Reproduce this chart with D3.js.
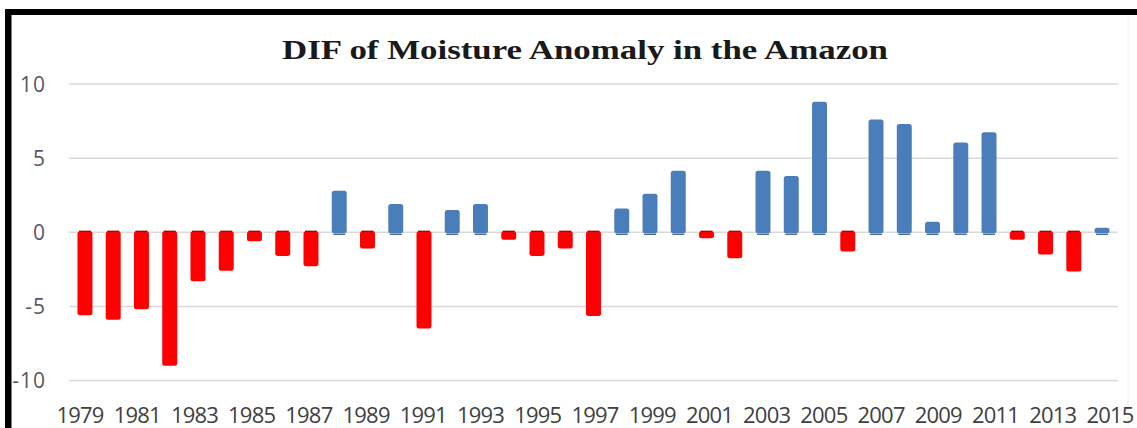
<!DOCTYPE html>
<html>
<head>
<meta charset="utf-8">
<script src="https://cdn.jsdelivr.net/npm/d3@7"></script>
<style>
  html, body { margin: 0; padding: 0; background: #fff; }
  svg { display: block; }
</style>
</head>
<body>
<svg id="chart" width="1137" height="428"></svg>
<script>
const title = "DIF of Moisture Anomaly in the Amazon";
const years = d3.range(1979, 2016).map(String);
const values = [-5.6, -5.9, -5.2, -9.0, -3.3, -2.6, -0.6, -1.6, -2.3, 2.8,
                -1.1, 1.9, -6.5, 1.5, 1.9, -0.5, -1.6, -1.1, -5.65, 1.6,
                2.6, 4.15, -0.4, -1.75, 4.15, 3.8, 8.8, -1.3, 7.6, 7.3,
                0.7, 6.05, 6.75, -0.5, -1.5, -2.65, 0.3];
const yTicks = [-10, -5, 0, 5, 10];
const xTickLabels = years.filter((d, i) => i % 2 === 0);

const svg = d3.select("#chart");
const W = 1137, H = 428;
const plotLeft = 69, plotRight = 1118;

const y = d3.scaleLinear().domain([-10, 10]).range([380.5, 84]);
const x = d3.scaleBand().domain(years).range([plotLeft, plotRight]).paddingInner(0.47).paddingOuter(0.3);
const xLab = d3.scalePoint().domain(years).range([80, 1110]);

// frame
svg.append("rect").attr("x", 0).attr("y", 0).attr("width", W).attr("height", H).attr("fill", "#fff");
svg.append("line").attr("x1", 1128).attr("x2", 1128).attr("y1", 15).attr("y2", H)
  .attr("stroke", "#f0f0f0").attr("stroke-width", 1);

// gridlines
svg.append("g").selectAll("line").data(yTicks).join("line")
  .attr("x1", plotLeft).attr("x2", plotRight)
  .attr("y1", d => y(d)).attr("y2", d => y(d))
  .attr("stroke", "#d9d9d9").attr("stroke-width", 1.5);

// y labels
svg.append("g").selectAll("text").data(yTicks).join("text")
  .attr("x", 46).attr("y", d => y(d) + 7.5)
  .attr("text-anchor", "end")
  .attr("font-family", "'Open Sans', 'Liberation Sans', sans-serif")
  .attr("font-size", 21)
  .attr("letter-spacing", 1)
  .attr("fill", "#595959")
  .text(d => d);

// bars
const bars = svg.append("g");
bars.selectAll("rect").data(values).join("rect")
  .attr("x", (d, i) => x(years[i]))
  .attr("width", x.bandwidth())
  .attr("y", d => y(Math.max(0, d)) - (d >= 0 ? 0 : 1))
  .attr("height", d => Math.abs(y(d) - y(0)) + 1)
  .attr("rx", 2.5)
  .attr("fill", d => d >= 0 ? "#4a7ebb" : "#ff0000");
// thin dark edge at the zero end
bars.selectAll("line").data(values).join("line")
  .attr("x1", (d, i) => x(years[i]) + 1.5)
  .attr("x2", (d, i) => x(years[i]) + x.bandwidth() - 1.5)
  .attr("y1", d => y(0) + (d >= 0 ? 2 : -1))
  .attr("y2", d => y(0) + (d >= 0 ? 2 : -1))
  .attr("stroke", d => d >= 0 ? "#2f5180" : "#8a0000")
  .attr("stroke-width", 1.2);

// x labels
svg.append("g").selectAll("text").data(xTickLabels).join("text")
  .attr("x", d => xLab(d))
  .attr("y", 423)
  .attr("text-anchor", "middle")
  .attr("font-family", "'Open Sans', 'Liberation Sans', sans-serif")
  .attr("font-size", 22)
  .attr("letter-spacing", -0.8)
  .attr("fill", "#404040")
  .text(d => d);

// title
svg.append("text")
  .attr("x", 585).attr("y", 59)
  .attr("text-anchor", "middle")
  .attr("font-family", "'Liberation Serif', 'DejaVu Serif', serif")
  .attr("font-weight", "bold")
  .attr("font-size", 28)
  .attr("fill", "#1a1a1a")
  .attr("textLength", 606)
  .attr("lengthAdjust", "spacingAndGlyphs")
  .text(title);

// black border (top and left)
svg.append("rect").attr("x", 5).attr("y", 9).attr("width", W - 5).attr("height", 6).attr("fill", "#000");
svg.append("rect").attr("x", 5).attr("y", 9).attr("width", 6.5).attr("height", H - 9).attr("fill", "#000");
</script>
</body>
</html>
